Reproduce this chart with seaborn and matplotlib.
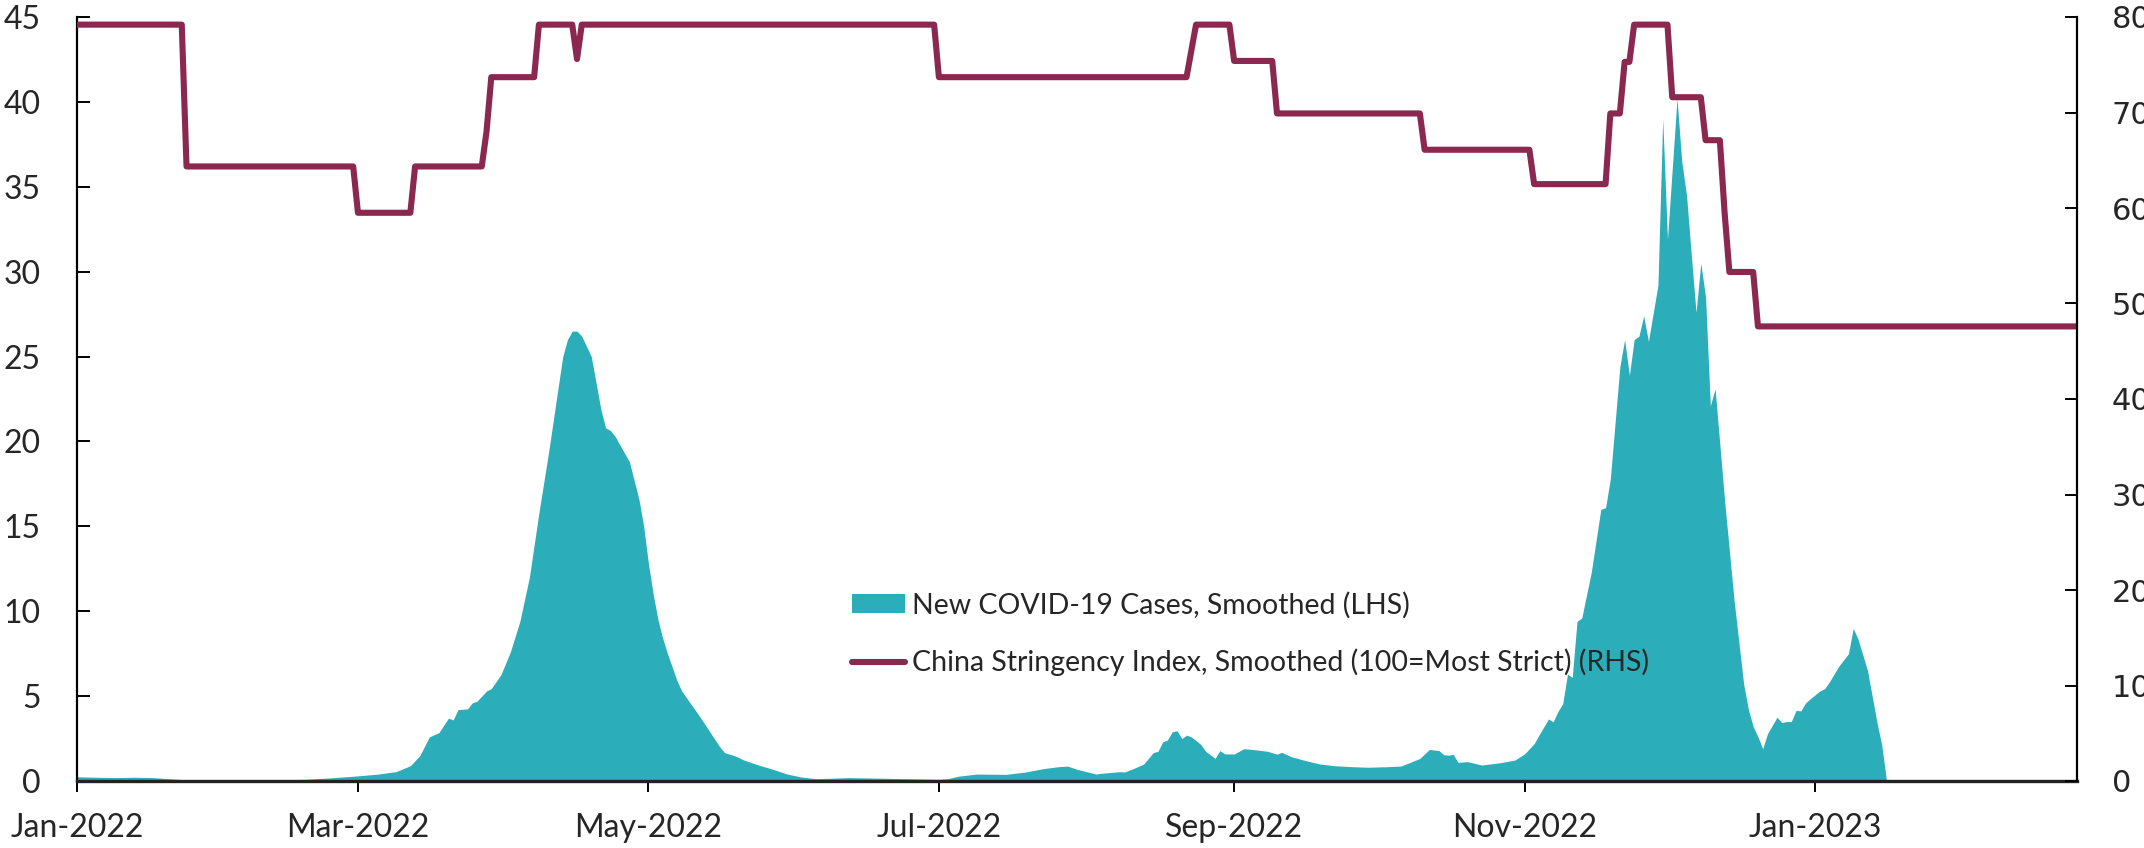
import matplotlib
matplotlib.use("Agg")
import matplotlib.pyplot as plt
import matplotlib.dates as mdates
from matplotlib.patches import Patch
from matplotlib.lines import Line2D
import numpy as np
import pandas as pd
import seaborn as sns

# New COVID-19 cases, smoothed (left axis)
case_dates = [
    "2022-01-01", "2022-01-05", "2022-01-09", "2022-01-13", "2022-01-17", "2022-01-21",
    "2022-01-25", "2022-01-31", "2022-02-10", "2022-02-18", "2022-02-23", "2022-02-28",
    "2022-03-05", "2022-03-09", "2022-03-12", "2022-03-14", "2022-03-16", "2022-03-18",
    "2022-03-20", "2022-03-21", "2022-03-22", "2022-03-24", "2022-03-25", "2022-03-26",
    "2022-03-28", "2022-03-29", "2022-03-31", "2022-04-02", "2022-04-04", "2022-04-06",
    "2022-04-08", "2022-04-10", "2022-04-12", "2022-04-13", "2022-04-14", "2022-04-15",
    "2022-04-16", "2022-04-17", "2022-04-18", "2022-04-19", "2022-04-21", "2022-04-22",
    "2022-04-23", "2022-04-24", "2022-04-26", "2022-04-27", "2022-04-29", "2022-04-30",
    "2022-05-01", "2022-05-02", "2022-05-03", "2022-05-04", "2022-05-05", "2022-05-07",
    "2022-05-08", "2022-05-10", "2022-05-12", "2022-05-14", "2022-05-16", "2022-05-17",
    "2022-05-19", "2022-05-21", "2022-05-24", "2022-05-27", "2022-05-30", "2022-06-02",
    "2022-06-05", "2022-06-08", "2022-06-12", "2022-06-16", "2022-06-20", "2022-06-23",
    "2022-06-27", "2022-07-01", "2022-07-03", "2022-07-05", "2022-07-09", "2022-07-15",
    "2022-07-19", "2022-07-23", "2022-07-26", "2022-07-28", "2022-07-30", "2022-08-03",
    "2022-08-04", "2022-08-08", "2022-08-09", "2022-08-11", "2022-08-13", "2022-08-15",
    "2022-08-16", "2022-08-17", "2022-08-18", "2022-08-19", "2022-08-20", "2022-08-21",
    "2022-08-22", "2022-08-23", "2022-08-25", "2022-08-26", "2022-08-28", "2022-08-29",
    "2022-08-30", "2022-09-01", "2022-09-03", "2022-09-04", "2022-09-06", "2022-09-08",
    "2022-09-10", "2022-09-11", "2022-09-13", "2022-09-16", "2022-09-19", "2022-09-22",
    "2022-09-26", "2022-09-29", "2022-10-03", "2022-10-06", "2022-10-08", "2022-10-10",
    "2022-10-12", "2022-10-14", "2022-10-15", "2022-10-16", "2022-10-17", "2022-10-18",
    "2022-10-20", "2022-10-23", "2022-10-27", "2022-10-30", "2022-11-01", "2022-11-03",
    "2022-11-04", "2022-11-06", "2022-11-07", "2022-11-08", "2022-11-09", "2022-11-10",
    "2022-11-11", "2022-11-12", "2022-11-13", "2022-11-15", "2022-11-17", "2022-11-18",
    "2022-11-19", "2022-11-21", "2022-11-22", "2022-11-23", "2022-11-24", "2022-11-25",
    "2022-11-26", "2022-11-27", "2022-11-29", "2022-11-30", "2022-12-01", "2022-12-03",
    "2022-12-04", "2022-12-05", "2022-12-06", "2022-12-07", "2022-12-08", "2022-12-09",
    "2022-12-10", "2022-12-11", "2022-12-13", "2022-12-15", "2022-12-17", "2022-12-18",
    "2022-12-19", "2022-12-20", "2022-12-21", "2022-12-22", "2022-12-24", "2022-12-25",
    "2022-12-26", "2022-12-27", "2022-12-28", "2022-12-29", "2022-12-30", "2022-12-31",
    "2023-01-02", "2023-01-03", "2023-01-04", "2023-01-06", "2023-01-08", "2023-01-09",
    "2023-01-10", "2023-01-12", "2023-01-14", "2023-01-15", "2023-01-16",
]
case_values = [
    0.25, 0.22, 0.20, 0.22, 0.20, 0.12,
    0.06, 0.05, 0.06, 0.10, 0.18, 0.28,
    0.40, 0.55, 0.90, 1.50, 2.60, 2.85,
    3.70, 3.60, 4.20, 4.25, 4.60, 4.70,
    5.30, 5.45, 6.25, 7.60, 9.40, 12.0,
    15.8, 19.3, 23.1, 25.0, 26.0, 26.5,
    26.5, 26.2, 25.6, 25.0, 21.9, 20.8,
    20.65, 20.3, 19.3, 18.8, 16.6, 15.0,
    12.8, 11.0, 9.50, 8.40, 7.50, 5.90,
    5.30, 4.50, 3.70, 2.85, 2.00, 1.67,
    1.50, 1.24, 0.95, 0.70, 0.42, 0.24,
    0.14, 0.16, 0.20, 0.18, 0.16, 0.14,
    0.12, 0.10, 0.14, 0.28, 0.41, 0.39,
    0.52, 0.73, 0.84, 0.88, 0.69, 0.41,
    0.45, 0.55, 0.53, 0.75, 1.00, 1.67,
    1.75, 2.30, 2.42, 2.90, 2.96, 2.50,
    2.70, 2.60, 2.15, 1.75, 1.33, 1.79,
    1.60, 1.59, 1.90, 1.88, 1.82, 1.75,
    1.58, 1.69, 1.43, 1.20, 1.00, 0.90,
    0.84, 0.81, 0.84, 0.88, 1.10, 1.33,
    1.86, 1.79, 1.55, 1.52, 1.57, 1.10,
    1.14, 0.94, 1.08, 1.24, 1.60, 2.20,
    2.70, 3.65, 3.49, 4.10, 4.55, 6.30,
    6.10, 9.40, 9.60, 12.3, 16.0, 16.1,
    17.8, 24.4, 26.0, 23.9, 26.0, 26.2,
    27.4, 25.9, 29.2, 39.0, 31.9, 40.2,
    36.5, 34.5, 31.0, 27.6, 30.5, 28.5,
    22.1, 23.1, 16.5, 10.6, 5.70, 4.20,
    3.20, 2.60, 1.90, 2.78, 3.76, 3.44,
    3.50, 3.50, 4.16, 4.13, 4.60, 4.85,
    5.30, 5.44, 5.84, 6.77, 7.50, 8.99,
    8.37, 6.51, 3.44, 2.11, 0.00,
]

# China Stringency Index, smoothed (right axis)
stringency_dates = [
    "2022-01-01", "2022-01-23", "2022-01-24", "2022-02-28", "2022-03-01", "2022-03-12",
    "2022-03-13", "2022-03-27", "2022-03-28", "2022-03-29", "2022-04-07", "2022-04-08",
    "2022-04-15", "2022-04-16", "2022-04-17", "2022-06-30", "2022-07-01", "2022-08-22",
    "2022-08-24", "2022-08-31", "2022-09-01", "2022-09-09", "2022-09-10", "2022-10-10",
    "2022-10-11", "2022-11-02", "2022-11-03", "2022-11-18", "2022-11-19", "2022-11-21",
    "2022-11-22", "2022-11-23", "2022-11-24", "2022-12-01", "2022-12-02", "2022-12-08",
    "2022-12-09", "2022-12-12", "2022-12-13", "2022-12-14", "2022-12-19", "2022-12-20",
    "2023-02-25",
]
stringency_values = [
    79.2, 79.2, 64.35, 64.35, 59.5, 59.5,
    64.35, 64.35, 68.0, 73.7, 73.7, 79.2,
    79.2, 75.6, 79.2, 79.2, 73.7, 73.7,
    79.2, 79.2, 75.4, 75.4, 69.9, 69.9,
    66.1, 66.1, 62.5, 62.5, 69.9, 69.9,
    75.3, 75.3, 79.2, 79.2, 71.6, 71.6,
    67.1, 67.1, 59.5, 53.3, 53.3, 47.6,
    47.6,
]

labels = [
    "New COVID-19 Cases, Smoothed (LHS)",
    "China Stringency Index, Smoothed (100=Most Strict) (RHS)",
]
teal = "#2CADBA"
maroon = "#8B2850"

cases = pd.DataFrame({"date": pd.to_datetime(case_dates), "value": case_values})
stringency = pd.DataFrame({"date": pd.to_datetime(stringency_dates), "value": stringency_values})

sns.set_style("white")
plt.rcParams["font.family"] = ["Lato", "DejaVu Sans"]

W, H = 2144, 848
fig = plt.figure(figsize=(W / 100, H / 100), dpi=100)
ax = fig.add_axes([77 / W, 1 - 781 / H, 2000 / W, 764 / H])

ax.fill_between(cases["date"], cases["value"], 0, color=teal, linewidth=0, zorder=2)

ax2 = ax.twinx()
sns.lineplot(data=stringency, x="date", y="value", ax=ax2, color=maroon,
             linewidth=4.4, solid_joinstyle="round", solid_capstyle="butt", legend=False)

ax.set_xlim(pd.Timestamp("2022-01-01"), pd.Timestamp("2023-02-25"))
ax.set_ylim(0, 45)
ax2.set_ylim(0, 80)
ax.set_yticks(np.arange(0, 46, 5))
ax2.set_yticks(np.arange(0, 81, 10))
ax.xaxis.set_major_locator(mdates.MonthLocator(bymonth=[1, 3, 5, 7, 9, 11]))
ax.xaxis.set_major_formatter(mdates.DateFormatter("%b-%Y"))

for a in (ax, ax2):
    a.set_xlabel("")
    a.set_ylabel("")
    a.spines["top"].set_visible(False)
    a.grid(False)

ax.spines["left"].set_linewidth(1.6)
ax.spines["left"].set_color("black")
ax.spines["bottom"].set_linewidth(2.4)
ax.spines["bottom"].set_color("#222222")
ax.spines["right"].set_visible(False)
ax2.spines["left"].set_visible(False)
ax2.spines["bottom"].set_visible(False)
ax2.spines["right"].set_linewidth(1.6)
ax2.spines["right"].set_color("black")

ax.tick_params(axis="y", which="major", direction="in", length=9, width=1.4,
               color="black", labelsize=23, pad=26, left=True)
ax.tick_params(axis="x", which="major", direction="out", length=8, width=1.4,
               color="black", labelsize=23, pad=15, bottom=True)
ax2.tick_params(axis="y", which="major", direction="in", length=9, width=1.4,
                color="black", labelsize=22, pad=25, right=True)
for t in ax2.get_yticklabels():
    t.set_fontfamily("DejaVu Sans")

handles = [
    Patch(facecolor=teal, edgecolor="none"),
    Line2D([0], [0], color=maroon, linewidth=4.4, solid_capstyle="round"),
]
ax2.legend(handles, labels, loc="upper left", bbox_to_anchor=(852 / W, 1 - 592 / H),
           bbox_transform=fig.transFigure, frameon=False, fontsize=20.5,
           handlelength=1.85, handleheight=0.65, handletextpad=0.26,
           labelspacing=1.05, borderpad=0, borderaxespad=0)

fig.savefig("out.png", dpi=100)
